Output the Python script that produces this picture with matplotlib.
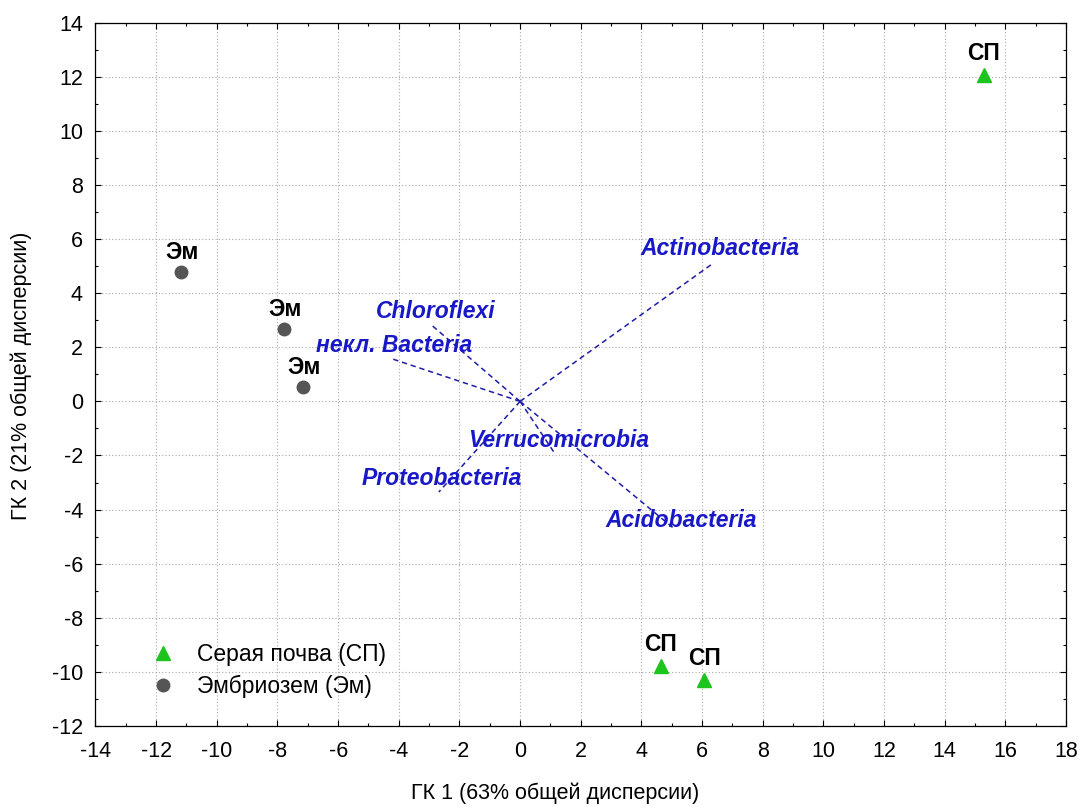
import matplotlib
matplotlib.use("Agg")
import matplotlib.pyplot as plt
from matplotlib.ticker import MultipleLocator

plt.rcParams['font.family'] = ['Liberation Sans', 'DejaVu Sans']
plt.rcParams['axes.unicode_minus'] = False

# Sample scores on the first two principal components
sp_x = [15.28, 4.63, 6.07]
sp_y = [12.05, -9.80, -10.30]
em_x = [-11.18, -7.78, -7.16]
em_y = [4.78, 2.67, 0.54]

# Variable loadings (vector endpoints) and their label positions
taxa = ['Actinobacteria', 'Chloroflexi', 'некл. Bacteria',
        'Verrucomicrobia', 'Proteobacteria', 'Acidobacteria']
vec_x = [6.37, -2.96, -4.27, 1.11, -2.68, 5.07]
vec_y = [5.11, 2.86, 1.59, -1.87, -3.35, -4.70]
lab_x = [6.58, -2.79, -4.16, 1.27, -2.58, 5.32]
lab_y = [5.42, 3.09, 1.84, -1.68, -3.10, -4.64]

x_ticks = list(range(-14, 19, 2))
y_ticks = list(range(-12, 15, 2))

fig = plt.figure(figsize=(10.79, 8.07), dpi=100)
ax = fig.add_axes([0.0885, 0.1004, 0.8995, 0.8715])

ax.set_xlim(-14, 18)
ax.set_ylim(-12, 14)
ax.set_xticks(x_ticks)
ax.set_yticks(y_ticks)
ax.xaxis.set_minor_locator(MultipleLocator(1))
ax.yaxis.set_minor_locator(MultipleLocator(1))
ax.tick_params(which='both', direction='in', top=True, right=True,
               labelsize=15.5, colors='black')
ax.tick_params(which='major', length=4.5, width=0.8)
ax.tick_params(which='minor', length=2.2, width=0.8)
ax.tick_params(axis='x', which='major', pad=11)
ax.tick_params(axis='y', which='major', pad=9)

ax.grid(True, which='major', color='#a8a8a8', linewidth=0.8,
        linestyle=(0, (1, 2)))
ax.set_axisbelow(True)
for s in ax.spines.values():
    s.set_linewidth(0.9)
    s.set_color('black')

# Loading vectors from the origin
for vx, vy in zip(vec_x, vec_y):
    ax.plot([0, vx], [0, vy], color='#1c1ca8', linewidth=1.1,
            linestyle=(0, (3.5, 2.5)), zorder=2)
for name, tx, ty in zip(taxa, lab_x, lab_y):
    ax.text(tx, ty, name, color='#1818c8', fontsize=16.5,
            fontweight='bold', fontstyle='italic',
            ha='center', va='baseline', zorder=3)

# Sample points
ax.plot(sp_x, sp_y, linestyle='none', marker='^', markersize=10.5,
        color='#1ec41e', label='Серая почва (СП)', zorder=4)
ax.plot(em_x, em_y, linestyle='none', marker='o', markersize=9,
        color='#555555', label='Эмбриозем (Эм)', zorder=4)

for x, y in zip(sp_x, sp_y):
    ax.annotate('СП', (x, y), xytext=(0, 11), textcoords='offset points',
                ha='center', va='baseline', fontsize=16.5,
                fontweight='bold', color='black', zorder=5)
for x, y in zip(em_x, em_y):
    ax.annotate('Эм', (x, y), xytext=(1, 9.5), textcoords='offset points',
                ha='center', va='baseline', fontsize=16.5,
                fontweight='bold', color='black', zorder=5)

leg = ax.legend(loc='upper left', bbox_to_anchor=(0.048, 0.131),
                frameon=False, fontsize=16.5, handlelength=1.0,
                handletextpad=1.0, labelspacing=0.38, borderaxespad=0)

ax.set_xlabel('ГК 1 (63% общей дисперсии)', fontsize=15.5, va='center')
ax.set_ylabel('ГК 2 (21% общей дисперсии)', fontsize=15.5, va='center')
ax.xaxis.set_label_coords(0.4735, -0.095)
ax.yaxis.set_label_coords(-0.0768, 0.4977)

fig.savefig('out.png', dpi=100, facecolor='white')
